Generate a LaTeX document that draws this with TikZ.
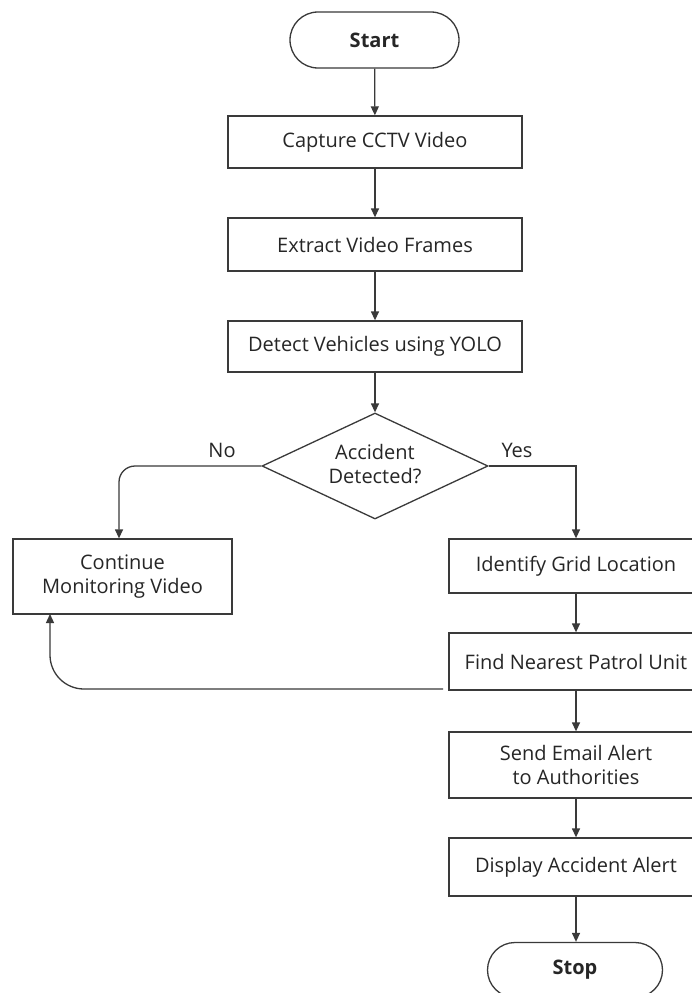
\documentclass[tikz,border=0pt]{standalone}
\usepackage{fontspec}
\setmainfont{Open Sans}
\usetikzlibrary{arrows.meta,shapes.geometric,shapes.misc}
\definecolor{linec}{HTML}{3A3A3A}
\definecolor{textc}{HTML}{262626}
\begin{document}
\begin{tikzpicture}[x=1pt,y=-1pt,
  every node/.style={text=textc,font=\fontsize{20}{24}\selectfont},
  procbox/.style={draw=linec,line width=1.3pt,rectangle,inner sep=0pt,align=center},
  termbox/.style={draw=linec,line width=1.3pt,rounded rectangle,inner sep=0pt,align=center,font=\fontsize{20}{24}\selectfont\bfseries},
  decbox/.style={draw=linec,line width=1.3pt,diamond,inner sep=0pt,minimum width=226pt,minimum height=106pt},
  conn/.style={draw=linec,line width=1.3pt,-{Triangle[length=9pt,width=8pt]}},
  lbl/.style={inner sep=0pt,align=center}
]
\useasboundingbox[clip] (0,0) rectangle (692,993);
\fill[white] (0,0) rectangle (692,993);

\node[termbox,minimum width=169pt,minimum height=56pt] (start) at (374.5,40) {Start};
\node[procbox,minimum width=294pt,minimum height=52pt] (cap) at (375,142) {Capture CCTV Video};
\node[procbox,minimum width=294pt,minimum height=53pt] (ext) at (375,244.5) {Extract Video Frames};
\node[procbox,minimum width=294pt,minimum height=51pt] (det) at (375,346.5) {Detect Vehicles using YOLO};
\node[decbox] (dec) at (375,466) {};
\node[lbl] (dectext) at (375,464) {Accident\\Detected?};
\node[procbox,minimum width=219pt,minimum height=75pt] (cont) at (122.5,576.5) {Continue\\Monitoring Video};
\node[procbox,minimum width=254pt,minimum height=54pt] (ident) at (576,566) {Identify Grid Location};
\node[procbox,minimum width=254pt,minimum height=57pt] (find) at (576,661.5) {Find Nearest Patrol Unit};
\node[procbox,minimum width=254pt,minimum height=66pt] (send) at (576,765) {Send Email Alert\\to Authorities};
\node[procbox,minimum width=254pt,minimum height=58pt] (disp) at (576,867) {Display Accident Alert};
\node[termbox,minimum width=175pt,minimum height=55pt] (stop) at (575,970) {Stop};

\node[lbl] (no) at (222,450) {No};
\node[lbl] (yes) at (517,450) {Yes};

\coordinate (noturn) at (119,466);
\coordinate (retstart) at (443,689);
\coordinate (retend) at (50,614);

\draw[conn] (start) -- (cap);
\draw[conn] (cap) -- (ext);
\draw[conn] (ext) -- (det);
\draw[conn] (det) -- (dec);
\draw[conn,rounded corners=16pt] (dec.west) -- (noturn) -- (noturn |- cont.north);
\draw[conn] (dec.east) -| (ident.north);
\draw[conn] (ident) -- (find);
\draw[conn] (find) -- (send);
\draw[conn] (send) -- (disp);
\draw[conn] (disp.south) -- (stop.north -| disp.south);
\draw[conn,rounded corners=34pt] (retstart) -| (retend);
\end{tikzpicture}
\end{document}
